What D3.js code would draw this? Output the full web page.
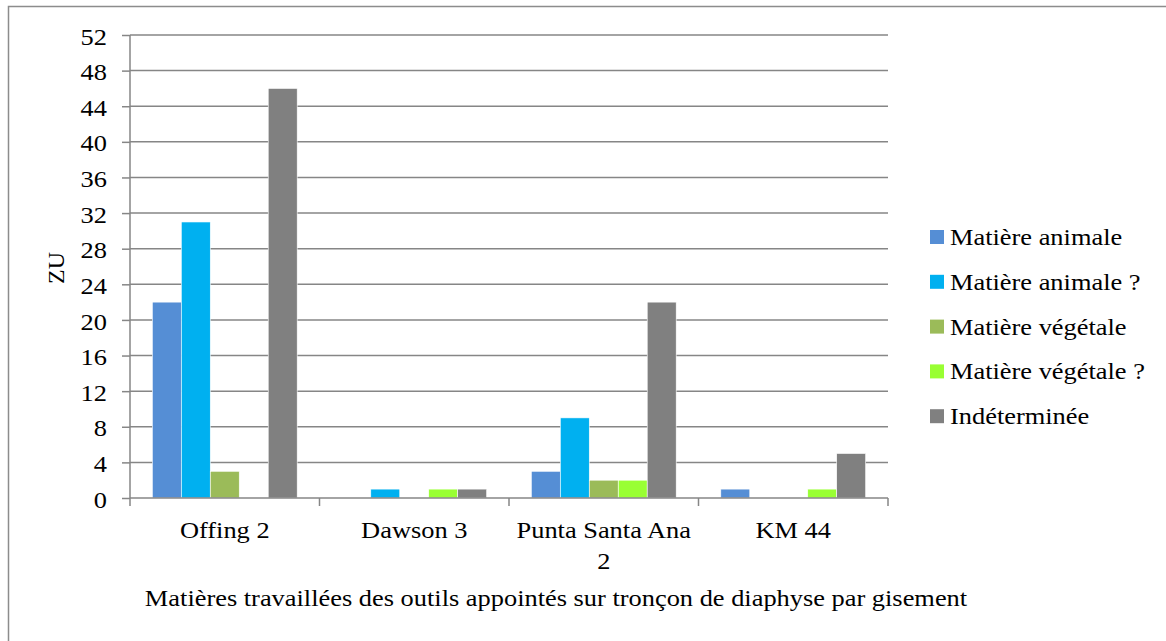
<!DOCTYPE html>
<html>
<head>
<meta charset="utf-8">
<script src="https://cdn.jsdelivr.net/npm/d3@7"></script>
<style>
  html, body { margin: 0; padding: 0; background: #fff; }
</style>
</head>
<body>
<svg id="chart" width="1166" height="641"></svg>
<script>
// Sites (x categories)
const sites = ["Offing 2", "Dawson 3", "Punta Santa Ana 2", "KM 44"];
// Worked-material classes (series)
const materials = ["Matière animale", "Matière animale ?", "Matière végétale", "Matière végétale ?", "Indéterminée"];
const colors = ["#558ED5", "#00B0F0", "#9BBB59", "#99FF33", "#808080"];
// Counts per material, one value per site
const animale = [22, 0, 3, 1];
const animaleQ = [31, 1, 9, 0];
const vegetale = [3, 0, 2, 0];
const vegetaleQ = [0, 1, 2, 1];
const indeterminee = [46, 1, 22, 5];
const yTicks = [0, 4, 8, 12, 16, 20, 24, 28, 32, 36, 40, 44, 48, 52];
const yTitle = "ZU";
const chartTitle = "Matières travaillées des outils appointés sur tronçon de diaphyse par gisement";

const seriesValues = [animale, animaleQ, vegetale, vegetaleQ, indeterminee];

const FONT = "Liberation Serif";
const FS = 24;
const SX = 1.1; // slight horizontal widening of the serif text
const svg = d3.select("#chart");
const gridColor = "#868686";

// text helper: anchored at (x, y), widened horizontally around the anchor
function label(parent, x, y, txt, anchor) {
  return parent.append("text")
    .attr("transform", `translate(${x},${y}) scale(${SX},1)`)
    .attr("text-anchor", anchor || "start")
    .style("font-family", FONT).style("font-size", FS + "px")
    .attr("fill", "#000")
    .text(txt);
}

// outer chart frame
svg.append("rect")
  .attr("x", 8.5).attr("y", 6.5)
  .attr("width", 1170).attr("height", 650)
  .attr("fill", "none").attr("stroke", "#8c8c8c").attr("stroke-width", 1.5);

const plot = { left: 130, right: 888, top: 35, bottom: 498 };

const x0 = d3.scaleBand().domain(sites).range([plot.left, plot.right]).paddingInner(0).paddingOuter(0);
const x1 = d3.scaleBand().domain(materials).range([0, x0.bandwidth()]).paddingInner(0).paddingOuter(0.77);
const y = d3.scaleLinear().domain([0, 52]).range([plot.bottom, plot.top]);

// horizontal gridlines
svg.append("g").selectAll("line").data(yTicks.filter(t => t > 0)).join("line")
  .attr("x1", plot.left).attr("x2", plot.right)
  .attr("y1", d => y(d)).attr("y2", d => y(d))
  .attr("stroke", gridColor).attr("stroke-width", 1.5);

// y axis
const yAxis = d3.axisLeft(y).tickValues(yTicks).tickSize(8).tickPadding(15);
const gy = svg.append("g").attr("transform", `translate(${plot.left},0)`).call(yAxis);
gy.select(".domain").attr("stroke", gridColor).attr("stroke-width", 1.5).attr("d", `M0,${plot.top}V${plot.bottom}`);
gy.selectAll(".tick line").attr("stroke", gridColor).attr("stroke-width", 1.5);
gy.selectAll(".tick text")
  .attr("x", null).attr("dy", "0.38em")
  .attr("transform", `translate(-23,0) scale(${SX},1)`)
  .style("font-family", FONT).style("font-size", FS + "px").attr("fill", "#000");

// bars
const groups = svg.append("g").selectAll("g").data(sites).join("g")
  .attr("transform", d => `translate(${x0(d)},0)`);
groups.selectAll("rect")
  .data((site, i) => materials.map((m, k) => ({ m, k, v: seriesValues[k][i] })).filter(d => d.v > 0))
  .join("rect")
  .attr("x", d => x1(d.m))
  .attr("width", x1.bandwidth())
  .attr("y", d => y(d.v))
  .attr("height", d => y(0) - y(d.v))
  .attr("fill", d => colors[d.k])
  .attr("stroke", "#fff").attr("stroke-width", 0.6);

// x axis baseline and category separators
const gx = svg.append("g").attr("transform", `translate(0,${plot.bottom})`);
gx.append("line").attr("x1", plot.left).attr("x2", plot.right)
  .attr("stroke", gridColor).attr("stroke-width", 1.5);
const bounds = sites.map(s => x0(s)).concat([plot.right]);
gx.selectAll("line.sep").data(bounds).join("line").attr("class", "sep")
  .attr("x1", d => d).attr("x2", d => d).attr("y1", 0).attr("y2", 8)
  .attr("stroke", gridColor).attr("stroke-width", 1.5);

// category labels (wrapped)
const wrapLines = { "Punta Santa Ana 2": ["Punta Santa Ana", "2"] };
sites.forEach(s => {
  const lines = wrapLines[s] || [s];
  lines.forEach((ln, i) => label(svg, x0(s) + x0.bandwidth() / 2, 538 + i * 31, ln, "middle"));
});

// y axis title
svg.append("text")
  .attr("transform", "translate(64,268) rotate(-90)")
  .attr("text-anchor", "middle")
  .style("font-family", FONT).style("font-size", FS + "px").attr("fill", "#000")
  .text(yTitle);

// chart title below axis
label(svg, 556, 606, chartTitle, "middle");

// legend
const legend = svg.append("g").attr("transform", "translate(930,237)");
materials.forEach((m, i) => {
  const row = legend.append("g").attr("transform", `translate(0,${i * 44.8})`);
  row.append("rect").attr("x", 0).attr("y", -7).attr("width", 14).attr("height", 14).attr("fill", colors[i]);
  label(row, 20, 8, m, "start");
});
</script>
</body>
</html>
